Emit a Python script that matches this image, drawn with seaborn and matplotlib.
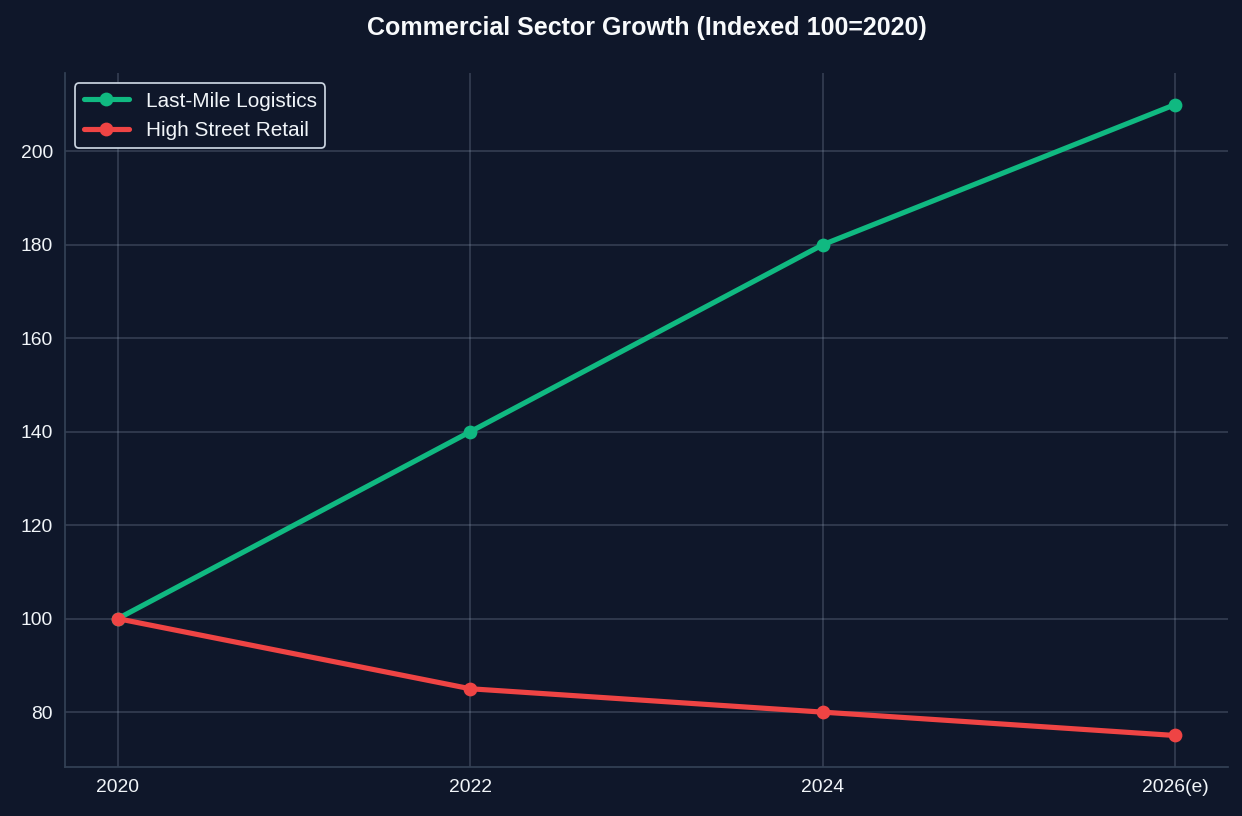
import matplotlib
matplotlib.use('Agg')
import matplotlib.pyplot as plt
import seaborn as sns
import pandas as pd

years = ['2020', '2022', '2024', '2026(e)']
logistics = [100, 140, 180, 210]
retail = [100, 85, 80, 75]

BG = '#0f172a'
GREEN = '#10b981'
RED = '#ef4444'

sns.set_style('dark')
plt.rcParams['font.family'] = ['Liberation Sans', 'DejaVu Sans']

df = pd.DataFrame({
    'year': years * 2,
    'index': logistics + retail,
    'sector': ['Last-Mile Logistics'] * 4 + ['High Street Retail'] * 4,
})

DPI = 124.2
fig = plt.figure(figsize=(1242 / DPI, 816 / DPI), dpi=DPI, facecolor=BG)
ax = fig.add_axes([0.0523, 0.06, 0.9364, 0.8505])
ax.set_facecolor(BG)

sns.lineplot(data=df, x='year', y='index', hue='sector',
             palette={'Last-Mile Logistics': GREEN, 'High Street Retail': RED},
             marker='o', markersize=8, markeredgewidth=0, linewidth=3, ax=ax)

ax.grid(True, color='#94a3b8', alpha=0.3, linewidth=0.9)
for s in ['top', 'right']:
    ax.spines[s].set_visible(False)
for s in ['left', 'bottom']:
    ax.spines[s].set_color('#334155')
    ax.spines[s].set_linewidth(1)

ax.tick_params(colors='#f1f5f9', labelsize=11.2, length=3.5, width=1)
ax.set_xlabel('')
ax.set_ylabel('')
ax.set_yticks([80, 100, 120, 140, 160, 180, 200])

leg = ax.legend(loc='upper left', fontsize=12, facecolor=BG, edgecolor='#cbd5e1',
                framealpha=1, labelcolor='#f1f5f9', handlelength=2.2,
                borderaxespad=0.5)
for h in leg.get_lines():
    h.set_linewidth(3)

ax.set_title('Commercial Sector Growth (Indexed 100=2020)', color='#f8fafc',
             fontsize=14.5, fontweight='bold', pad=22)

fig.savefig('out.png', dpi=DPI, facecolor=BG)
